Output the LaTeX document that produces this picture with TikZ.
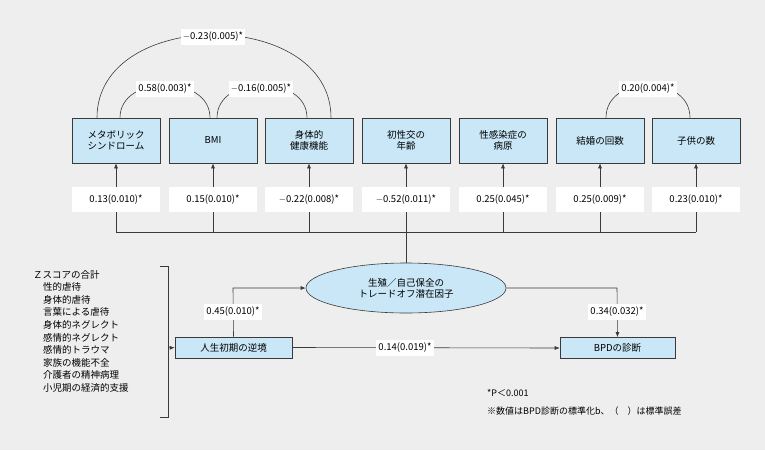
\documentclass[tikz,border=0pt]{standalone}
\usepackage{fontspec}
\setmainfont{Noto Sans CJK JP}
\usetikzlibrary{arrows.meta,shapes.geometric}
\definecolor{bg}{HTML}{EEEEEE}
\definecolor{bx}{HTML}{C9E7F7}
\definecolor{ln}{HTML}{3A3A3A}
\begin{document}
\begin{tikzpicture}[x=1pt,y=-1pt,font=\fontsize{9.5}{11}\selectfont,
 box/.style={draw=ln,fill=bx,minimum width=88pt,minimum height=45pt,align=center,inner sep=1pt,line width=0.6pt},
 sbox/.style={draw=ln,fill=bx,minimum height=21pt,inner sep=1pt,line width=0.6pt},
 lab/.style={fill=white,inner sep=2pt,minimum height=16pt},
 cl/.style={fill=white,minimum width=88pt,minimum height=25pt,inner sep=1pt},
 con/.style={draw=ln,line width=0.6pt},
 arr/.style={con,-{Latex[length=5pt,width=4pt]}}]
\fill[bg] (0,0) rectangle (765,450);
\useasboundingbox (0,0) rectangle (765,450);
\foreach \n/\x/\t in {b1/116/{メタボリック\\シンドローム},b2/213/BMI,b3/309/{身体的\\健康機能},b4/406/{初性交の\\年齢},b5/503/{性感染症の\\病原},b6/600/結婚の回数,b7/696/子供の数}{
 \node[box] (\n) at (\x,140.5) {\t};
}
\foreach \n/\x/\t in {c1/116/0.13(0.010)*,c2/213/0.15(0.010)*,c3/309/$-$0.22(0.008)*,c4/406/$-$0.52(0.011)*,c5/503/0.25(0.045)*,c6/600/0.25(0.009)*,c7/696/0.23(0.010)*}{
 \node[cl] (\n) at (\x,199.5) {\t};
}
\coordinate (busL) at (116,232);
\coordinate (busR) at (696,232);
\draw[con] (busL) -- (busR);
\foreach \i in {1,...,7}{
 \draw[con] (c\i.south |- busL) -- (c\i.south);
 \draw[arr] (c\i.north) -- (b\i.south);
}
\node[draw=ln,fill=bx,ellipse,minimum width=200pt,minimum height=50pt,align=center,inner sep=0pt,line width=0.6pt] (lat) at (406,288) {生殖／自己保全の\\トレードオフ潜在因子};
\draw[con] (c4.south |- busL) -- (lat.north);
\node[sbox,minimum width=117pt] (early) at (233.5,347.5) {人生初期の逆境};
\node[sbox,minimum width=115pt] (bpd) at (617.5,348) {BPDの診断};
\coordinate (k1) at (233,288);
\draw[arr] (early.north) -- (k1) -- (lat.west);
\node[lab] (l1) at (233,312) {0.45(0.010)*};
\coordinate (k2) at (617,288);
\draw[arr] (lat.east) -- (k2) -- (bpd.north);
\node[lab] (l2) at (617,312) {0.34(0.032)*};
\draw[arr] (early.east) -- (bpd.west);
\node[lab] (l3) at (405,348) {0.14(0.019)*};
% arcs
\draw[con] ([xshift=-19pt]b1.north) .. controls (97,7) and (331,7) .. ([xshift=22pt]b3.north);
\node[lab] at (213,37) {$-$0.23(0.005)*};
\draw[con] ([xshift=4pt]b1.north) .. controls (120,74) and (210,74) .. ([xshift=-3pt]b2.north);
\node[lab] at (165,89) {0.58(0.003)*};
\draw[con] ([xshift=4pt]b2.north) .. controls (217,74) and (307,74) .. ([xshift=-2pt]b3.north);
\node[lab] at (261,89) {$-$0.16(0.005)*};
\draw[con] ([xshift=6pt]b6.north) .. controls (606,74) and (690,74) .. ([xshift=-6pt]b7.north);
\node[lab] at (648,89) {0.20(0.004)*};
% list
\node[anchor=north west,align=left,inner sep=0pt,font=\fontsize{9.5}{12.6}\selectfont] (list) at (33,270) {Ｚスコアの合計\\
\hspace*{10pt}性的虐待\\\hspace*{10pt}身体的虐待\\\hspace*{10pt}言葉による虐待\\\hspace*{10pt}身体的ネグレクト\\\hspace*{10pt}感情的ネグレクト\\\hspace*{10pt}感情的トラウマ\\\hspace*{10pt}家族の機能不全\\\hspace*{10pt}介護者の精神病理\\\hspace*{10pt}小児期の経済的支援};
\coordinate (br1) at (160,266);
\coordinate (br2) at (168,266);
\coordinate (br3) at (168,417);
\coordinate (br4) at (160,417);
\coordinate (brm) at (168,348);
\draw[con] (br1) -- (br2) -- (br3) -- (br4);
\draw[arr] (brm) -- (early.west);
\node[anchor=west,inner sep=0pt,font=\fontsize{9}{11}\selectfont] (n1) at (487,393) {*P＜0.001};
\node[anchor=west,inner sep=0pt,font=\fontsize{9}{11}\selectfont] (n2) at (487,411) {※数値はBPD診断の標準化b、（　）は標準誤差};
\end{tikzpicture}
\end{document}
